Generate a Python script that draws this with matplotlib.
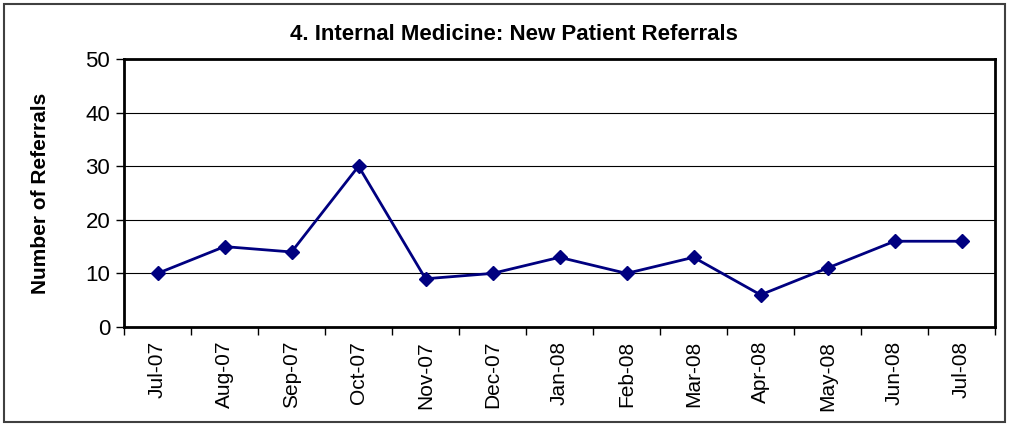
import matplotlib.pyplot as plt
import numpy as np

months = ["Jul-07", "Aug-07", "Sep-07", "Oct-07", "Nov-07", "Dec-07", "Jan-08",
          "Feb-08", "Mar-08", "Apr-08", "May-08", "Jun-08", "Jul-08"]
referrals = [10, 15, 14, 30, 9, 10, 13, 10, 13, 6, 11, 16, 16]

plt.rcParams['font.family'] = ['Liberation Sans', 'DejaVu Sans']

fig = plt.figure(figsize=(10.1, 4.26), dpi=100)
ax = fig.add_axes([0.1228, 0.2324, 0.8624, 0.6291])

# Outer frame of the chart
fig.patches.append(plt.Rectangle((0.004, 0.009), 0.991, 0.982, transform=fig.transFigure,
                                 fill=False, edgecolor='#404040', linewidth=1.5))

x = np.arange(len(months))
ax.plot(x, referrals, color='#000080', linewidth=2, marker='D', markersize=7.5, zorder=3)

ax.set_xlim(-0.5, len(months) - 0.5)
ax.set_ylim(0, 50)
ax.set_yticks(range(0, 51, 10))
ax.yaxis.grid(True, color='black', linewidth=0.8)
ax.set_axisbelow(True)

# ticks at category boundaries, labels at category centres
ax.set_xticks(np.arange(-0.5, len(months), 1))
ax.set_xticklabels([])
ax.set_xticks(x, minor=True)
ax.set_xticklabels(months, minor=True, rotation=90, fontsize=15)
ax.tick_params(axis='x', which='minor', length=0, pad=10)
ax.tick_params(axis='x', which='major', length=6, width=1)
ax.tick_params(axis='y', length=6, width=1, labelsize=16, pad=4)

for s in ax.spines.values():
    s.set_linewidth(2)

fig.text(0.04, 0.545, "Number of Referrals", rotation=90, fontsize=15, fontweight='bold',
         ha='center', va='center')
fig.text(0.509, 0.918, "4. Internal Medicine: New Patient Referrals", fontsize=16,
         fontweight='bold', ha='center', va='center')

fig.savefig("out.png", dpi=100)
